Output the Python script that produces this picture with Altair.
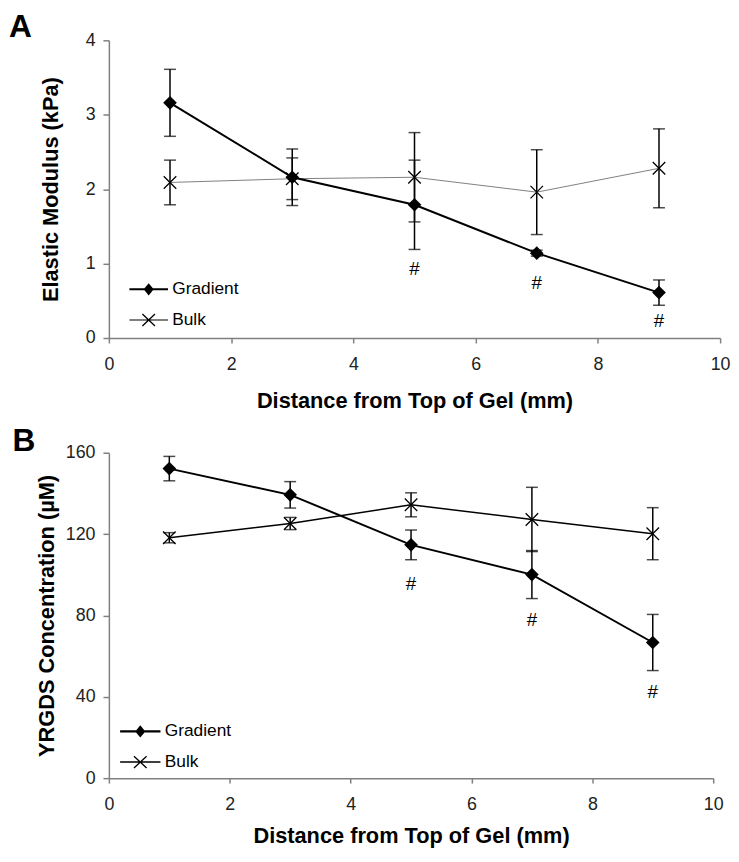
import altair as alt
import pandas as pd

FONT = "Liberation Sans"

# ---- data ----
distance = [1, 3, 5, 7, 9]

a_gradient_mean = [3.16, 2.16, 1.79, 1.14, 0.61]
a_gradient_err = [0.45, 0.38, 0.60, 0.04, 0.17]
a_bulk_mean = [2.09, 2.14, 2.16, 1.96, 2.28]
a_bulk_err = [0.30, 0.28, 0.60, 0.57, 0.53]

b_gradient_mean = [152.2, 139.3, 114.7, 100.1, 66.7]
b_gradient_err = [6.0, 6.5, 7.3, 11.8, 13.8]
b_bulk_mean = [118.2, 125.2, 134.4, 127.2, 120.2]
b_bulk_err = [2.5, 3.0, 5.9, 15.8, 12.8]

sig_x = [5, 7, 9]
a_sig_y = [0.92, 0.74, 0.23]
b_sig_y = [95.6, 77.7, 42.1]

x_ticks = [0, 2, 4, 6, 8, 10]
a_y_ticks = [0, 1, 2, 3, 4]
b_y_ticks = [0, 40, 80, 120, 160]

series_names = ["Gradient", "Bulk"]


def make_df(g_mean, g_err, b_mean, b_err):
    rows = []
    for name, means, errs in (("Gradient", g_mean, g_err), ("Bulk", b_mean, b_err)):
        for x, m, e in zip(distance, means, errs):
            rows.append({"series": name, "x": x, "mean": m, "lo": m - e, "hi": m + e})
    return pd.DataFrame(rows)


X_PATH = "M-1,-1L1,1M-1,1L1,-1"


def legend_paths(half, grad_t, bulk_t):
    # filled outlines (all wound the same way) so no stroke is needed
    g = (f"M-{half},-{grad_t}V{grad_t}H{half}V-{grad_t}Z"
         "M0,-0.82L-0.68,0L0,0.82L0.68,0Z")
    b = (f"M-{half},-{bulk_t}V{bulk_t}H{half}V-{bulk_t}Z"
         "M-0.912,-0.734L0.788,0.866L0.912,0.734L-0.788,-0.866Z"
         "M-0.788,0.866L0.912,-0.734L0.788,-0.866L-0.912,0.734Z")
    return [g, b]


def panel(df, sig_y, y_max, y_ticks, y_title, letter, width, height,
          bulk_color, bulk_width, y_title_pad, x_title_pad, leg_x, leg_y, leg_half,
          leg_label_off, bulk_leg_t, title_offset, title_dx):
    xs = alt.Scale(domain=[0, 10], nice=False, zero=False)
    ys = alt.Scale(domain=[0, y_max], nice=False, zero=True)
    x_axis = alt.Axis(values=x_ticks, title="Distance from Top of Gel (mm)", grid=False,
                      tickSize=5, labelPadding=13, titlePadding=x_title_pad,
                      labelFlush=False)
    y_axis = alt.Axis(values=y_ticks, title=y_title, grid=False, tickSize=6,
                      labelPadding=8, titlePadding=y_title_pad, labelFlush=False)
    X = alt.X("x:Q", scale=xs, axis=x_axis)

    base = alt.Chart(df)
    grad = base.transform_filter(alt.datum.series == "Gradient")
    bulk = base.transform_filter(alt.datum.series == "Bulk")

    err = base.mark_errorbar(ticks=True, size=12, thickness=1.5, color="black").encode(
        x=X, y=alt.Y("lo:Q", scale=ys, axis=y_axis), y2="hi:Q")
    bulk_line = bulk.mark_line(color=bulk_color, strokeWidth=bulk_width).encode(
        x=X, y=alt.Y("mean:Q", scale=ys, axis=y_axis))
    grad_line = grad.mark_line(color="black", strokeWidth=2).encode(
        x=X, y=alt.Y("mean:Q", scale=ys, axis=y_axis))
    bulk_pts = bulk.mark_point(shape=X_PATH, size=160, filled=False, color="black",
                               strokeWidth=1.3, opacity=1).encode(
        x=X, y=alt.Y("mean:Q", scale=ys, axis=y_axis))
    grad_pts = grad.mark_point(shape="diamond", size=190, filled=True, color="black",
                               opacity=1).encode(
        x=X, y=alt.Y("mean:Q", scale=ys, axis=y_axis))

    sig_df = pd.DataFrame({"x": sig_x, "y": sig_y})
    sig = alt.Chart(sig_df).mark_text(text="#", fontSize=19, font=FONT, color="black",
                                      baseline="middle").encode(
        x=X, y=alt.Y("y:Q", scale=ys, axis=y_axis))

    leg = base.transform_filter("false").mark_point(filled=True, color="black",
                                                    opacity=1).encode(
        x=X, y=alt.Y("mean:Q", scale=ys, axis=y_axis),
        shape=alt.Shape("series:N",
                        scale=alt.Scale(domain=series_names,
                                        range=legend_paths(leg_half, 0.14, bulk_leg_t)),
                        legend=alt.Legend(orient="none", legendX=leg_x, legendY=leg_y,
                                          title=None, symbolSize=225,
                                          symbolFillColor="black",
                                          labelOffset=leg_label_off,
                                          labelFontSize=17.5, labelFont=FONT,
                                          labelColor="black", rowPadding=12,
                                          padding=0)))

    return alt.layer(err, bulk_line, grad_line, bulk_pts, grad_pts, sig, leg).properties(
        width=width, height=height,
        title=alt.TitleParams(letter, anchor="start", frame="bounds", fontSize=32,
                              fontWeight="bold", font=FONT, color="black",
                              baseline="alphabetic", offset=title_offset, dx=title_dx),
    )


df_a = make_df(a_gradient_mean, a_gradient_err, a_bulk_mean, a_bulk_err)
df_b = make_df(b_gradient_mean, b_gradient_err, b_bulk_mean, b_bulk_err)

chart_a = panel(df_a, a_sig_y, 4, a_y_ticks, "Elastic Modulus (kPa)", "A", 618, 301,
                "#808080", 1, 23, 17, 31.5, 243, 2.6, 15, 0.07, -37.5, -31)
chart_b = panel(df_b, b_sig_y, 160, b_y_ticks, "YRGDS Concentration (\u00b5M)", "B", 611, 329,
                "black", 1.5, 7, 12, 23, 273, 2.72, 16, 0.1, -39, -23.5)

chart = alt.vconcat(chart_a, chart_b, spacing=14).resolve_scale(
    shape="independent").resolve_legend(shape="independent").properties(
    padding={"left": 0, "top": -2, "right": 0, "bottom": 0}
).configure_view(stroke=None).configure_axis(
    domainColor="#808080", tickColor="#808080", labelColor="#222222",
    labelFont=FONT, titleFont=FONT, labelFontSize=18, titleFontSize=22,
    titleFontWeight="bold", titleColor="black", domainWidth=1.5, tickWidth=1.5,
)

chart.save("out.html", embed_options={"renderer": "svg", "actions": False})
